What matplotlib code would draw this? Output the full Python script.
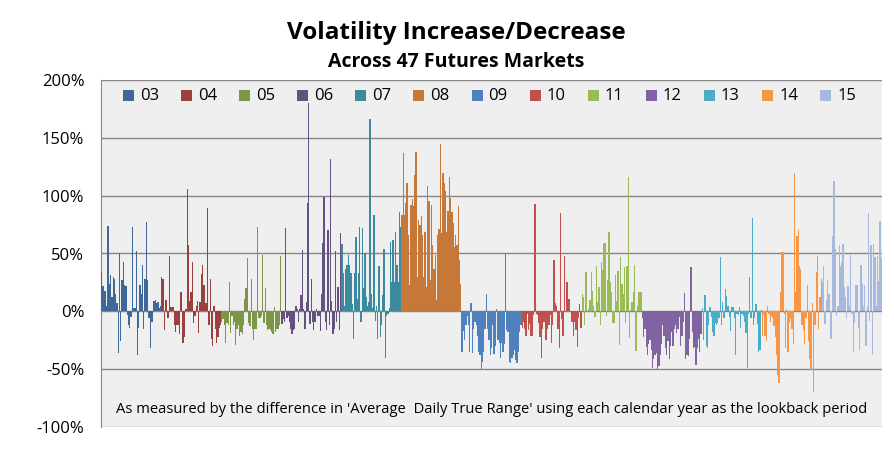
import matplotlib
matplotlib.use("Agg")
import matplotlib.pyplot as plt
from matplotlib.patches import Rectangle
import numpy as np

# one list of 47 markets per calendar year, in percent
years = ["03", "04", "05", "06", "07", "08", "09", "10", "11", "12", "13", "14", "15"]

y03 = [34, 22, 18, 18, 5, 74, 24, 31, 12, 30, 28, 15, 7, -36, 50, -26, 27, 43, 23, 22,
       -3, -12, -14, -5, 73, 3, 3, 52, -38, -14, 23, 15, 40, -15, 28, 77, 27, -6, -32, -9,
       -9, 9, 10, 7, 8, 3, 5]
y04 = [30, 28, -16, 10, 10, -6, 48, 4, 4, 4, -12, -18, -12, -12, -20, 17, -27, -27, -22, 2,
       106, 57, 9, 17, 43, -10, -4, 5, 9, -19, 8, 32, 40, 23, 7, 7, 89, -12, 28, -24,
       -30, 5, -15, -27, -22, -14, -12]
y05 = [-9, -7, -12, -27, -10, -12, 25, -19, -4, -12, -9, -29, -15, -12, -21, -18, -20, -12, 11, 20,
       46, -10, -13, 28, -15, -25, -15, -15, 73, -6, -6, -4, 49, -10, 20, -12, -16, -15, -16, -18,
       -20, 4, -18, -15, -15, -12, 48]
y06 = [-11, -7, -9, 72, -6, -4, -9, -15, -20, -16, -15, 5, 2, -9, 2, 14, 53, 2, -15, 8,
       94, 180, -11, 28, -9, -16, -9, 2, -4, -4, -17, 15, 59, 99, -9, -16, 70, -12, 132, 9,
       -20, -15, 52, -9, 21, -16, 68]
y07 = [58, 33, 5, 37, 40, 49, 40, 33, 6, -24, 33, 64, 11, 33, 73, -9, 72, 20, 50, 12,
       5, 8, 166, 15, 3, 83, -8, 5, -24, 39, -22, -12, 14, 54, -40, -4, -2, 3, 60, 25,
       62, 25, 69, 40, 25, 86, 73]
y08 = [83, 137, 83, 94, 111, 66, 23, 92, 97, 91, 118, 138, 30, 79, 75, 82, 66, 30, 69, 21,
       108, 95, 27, 92, 57, 37, 49, 10, 66, 71, 145, 68, 120, 111, 104, 69, 87, 116, 98, 86,
       76, 56, 66, 57, 91, 44, 24]
y09 = [-35, -17, -25, -12, -4, -12, -35, 7, -36, -15, -9, -12, -21, -35, -38, -50, -44, -35, -15, 15,
       -15, -25, -38, -32, -12, -37, -30, 2, -25, -27, -40, -27, -35, -28, 50, -16, -18, -44, -45, -40,
       -38, -33, -42, -45, -35, -18, -12]
y10 = [-14, -9, -15, -21, -2, -16, -11, -21, -21, -3, 93, -2, -3, -10, -22, -40, -15, -9, -25, -25,
       -15, -12, -3, -27, -12, 44, 7, 5, -15, -32, 85, -7, -21, 48, -1, 25, 11, 11, -1, -9,
       -21, -9, -16, -31, -6, 6, -14]
y11 = [15, 12, -12, 34, -1, 2, 10, 34, 18, 5, -5, 39, 8, 21, -12, 43, 36, 59, 59, -4,
       27, 69, 25, 17, -10, -10, 31, 9, 35, -29, 47, 24, 15, 38, -10, 39, 116, -23, 1, 8,
       17, 40, -34, 5, 17, 17, 17]
y12 = [-6, -22, -15, -31, -38, -28, -25, -33, -49, -41, -38, -36, -50, -47, -38, -28, -12, -21, -32, -38,
       -26, -41, -30, -18, -30, -15, -12, -19, -15, -5, -30, -21, -9, 16, -41, -38, -39, -24, 38, -18,
       -32, -31, -46, -32, -24, -35, -20]
y13 = [3, -25, 14, -30, -32, -12, 4, -5, -18, -21, -10, -12, -10, -6, 47, -12, 8, -6, 19, 13,
       5, -5, -17, 4, 4, -6, -38, -2, -3, 4, -14, -2, -4, -9, -19, -49, -2, 30, -6, 81,
       -12, -6, 6, -11, -35, -33, 1]
y14 = [-21, -3, -21, -26, 5, -2, -9, -4, -6, -13, -22, -38, -55, -62, 17, 51, 51, -2, -32, 2,
       -35, -10, -7, -15, -28, 120, 17, 65, 70, 39, 37, -12, -16, -28, -6, 23, -26, -41, -51, 7,
       -70, -12, 34, 48, -15, 12, 28]
y15 = [25, 39, -11, 10, 27, 15, -24, -24, 65, 113, 54, -4, 5, 57, 39, 43, 58, 21, 12, -6,
       22, 5, 49, -2, -35, -10, 23, 23, -14, -33, 40, 24, 5, 23, -30, 5, 85, -8, 57, -38,
       58, 47, 5, 48, 26, 78, 46]

series = [y03, y04, y05, y06, y07, y08, y09, y10, y11, y12, y13, y14, y15]
colors = ["#3f6797", "#9a403e", "#7c9647", "#665082", "#3c8a9e", "#c67838",
          "#4f81bd", "#c0504d", "#9bbb59", "#8064a2", "#4bacc6", "#f79646", "#a7b9dd"]

plt.rcParams["font.family"] = ["Open Sans", "DejaVu Sans"]

W, H = 895, 451
fig = plt.figure(figsize=(W / 100, H / 100), dpi=100)
ax = fig.add_axes([101 / W, (H - 427) / H, 781 / W, 347 / H])
ax.set_facecolor("#efefef")

start = 0
for lab, vals, c in zip(years, series, colors):
    x = np.arange(start, start + len(vals))
    ax.bar(x, vals, width=1.0, color=c, linewidth=0, label=lab, zorder=3)
    start += len(vals)

ax.set_xlim(-0.5, start - 0.5)
ax.set_ylim(-100, 200)
ax.set_yticks(np.arange(-100, 201, 50))
ax.set_yticklabels([f"{v}%" for v in range(-100, 201, 50)], fontsize=12)
ax.set_xticks([])
ax.grid(axis="y", color="#868686", linewidth=1, zorder=1)
for s in ["top", "right", "bottom"]:
    ax.spines[s].set_visible(False)
ax.spines["left"].set_color("#868686")
ax.tick_params(axis="y", length=0, pad=12)

# legend row, laid out like the spreadsheet one
for i, (lab, c) in enumerate(zip(years, colors)):
    x0 = 123 + i * 58.1
    fig.add_artist(Rectangle((x0 / W, 1 - 101 / H), 11 / W, 11 / H,
                             transform=fig.transFigure, color=c, linewidth=0))
    fig.text((x0 + 17) / W, 1 - 96 / H, lab, ha="left", va="center", fontsize=12)

fig.text(0.51, 1 - 33 / H, "Volatility Increase/Decrease", ha="center", va="center",
         fontsize=17.5, fontweight="bold")
fig.text(0.51, 1 - 62 / H, "Across 47 Futures Markets", ha="center", va="center",
         fontsize=14, fontweight="bold")
ax.text(0.5, 0.05, "As measured by the difference in 'Average  Daily True Range' using each calendar year as the lookback period",
        transform=ax.transAxes, ha="center", va="center", fontsize=10.6, zorder=5)

fig.savefig("out.png", dpi=100)
